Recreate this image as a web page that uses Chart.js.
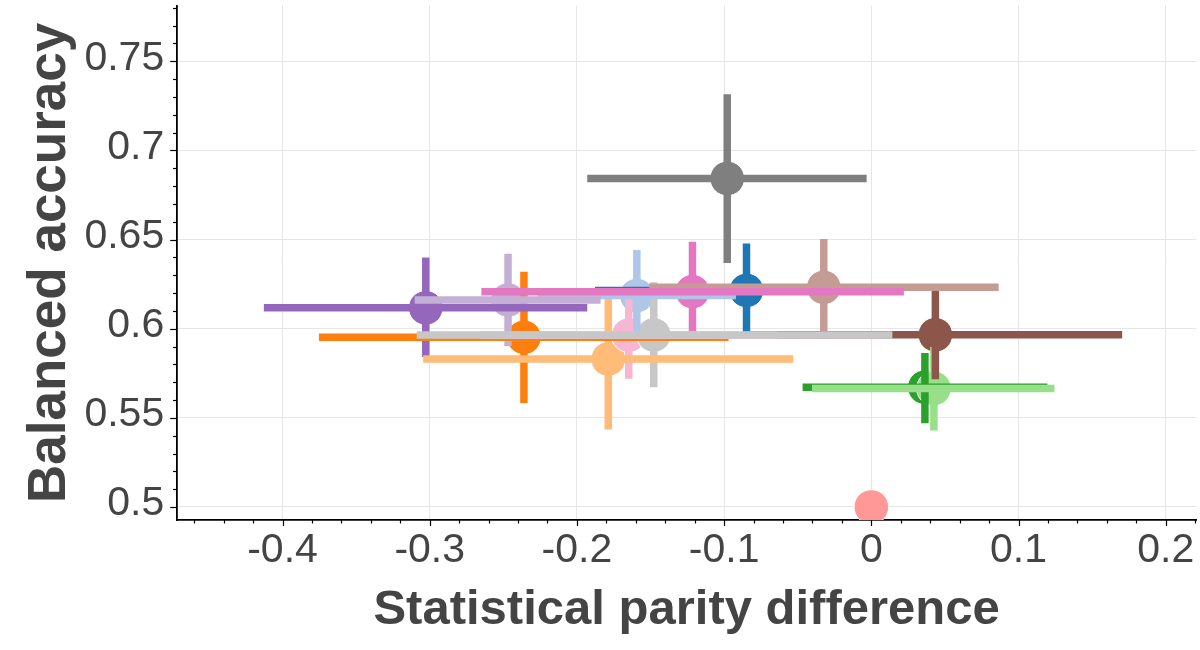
<!DOCTYPE html>
<html>
<head>
<meta charset="utf-8">
<script src="https://cdn.jsdelivr.net/npm/chart.js@4.4.1/dist/chart.umd.min.js"></script>
<style>
html, body { margin: 0; padding: 0; background: #fff; }
canvas { display: block; }
</style>
</head>
<body>
<canvas id="myChart" width="1200" height="650"></canvas>
<script>
// one entry per model, tab20 order
const seriesNames = ['blue', 'light blue', 'orange', 'light orange', 'green', 'light green', 'salmon',
  'purple', 'light purple', 'brown', 'light brown', 'pink', 'light pink', 'gray', 'light gray'];
const seriesColors = ['#1f77b4', '#aec7e8', '#ff7f0e', '#ffbb78', '#2ca02c', '#98df8a', '#ff9896',
  '#9467bd', '#c5b0d5', '#8c564b', '#c49c94', '#e377c2', '#f7b6d2', '#7f7f7f', '#c7c7c7'];

const parityDiff  = [-0.0848, -0.1593, -0.236, -0.1787, 0.0364, 0.0425, 0, -0.3027, -0.2468, 0.0435, -0.0323, -0.1215, -0.1648, -0.0979, -0.1478];
const balancedAcc = [0.6215, 0.6186, 0.5952, 0.583, 0.5672, 0.5665, 0.5, 0.6117, 0.6161, 0.5966, 0.6232, 0.6208, 0.5964, 0.6843, 0.5965];

const parityLow  = [-0.1878, -0.2265, -0.3753, -0.3045, -0.0467, -0.0403, null, -0.4127, -0.3102, -0.0834, -0.1509, -0.2649, -0.2655, -0.193, -0.3088];
const parityHigh = [0.019, -0.092, -0.097, -0.053, 0.1196, 0.1244, null, -0.193, -0.1839, 0.1704, 0.0865, 0.0221, -0.0637, -0.0032, 0.0143];
const accLow  = [0.5947, 0.5936, 0.5584, 0.5434, 0.547, 0.5429, null, 0.5841, 0.5903, 0.5717, 0.5962, 0.5935, 0.5719, 0.6369, 0.5671];
const accHigh = [0.6478, 0.6441, 0.632, 0.6225, 0.5864, 0.5897, null, 0.6399, 0.6421, 0.6212, 0.6503, 0.6488, 0.6221, 0.7315, 0.6261];

const xTickValues = [-0.4, -0.3, -0.2, -0.1, 0, 0.1, 0.2];
const xTickLabels = ['-0.4', '-0.3', '-0.2', '-0.1', '0', '0.1', '0.2'];
const yTickValues = [0.5, 0.55, 0.6, 0.65, 0.7, 0.75];
const yTickLabels = ['0.5', '0.55', '0.6', '0.65', '0.7', '0.75'];

const X_MIN = -0.4719, X_MAX = 0.2209, X_MINOR = 0.02;
const Y_MIN = 0.4927, Y_MAX = 0.7812, Y_MINOR = 0.01;

const TEXT = '#444';
const BAR_WIDTH = 7.5;

// major ticks get a label and a grid line, minor ones only a short mark
function buildTicks(min, max, step, majors, labels) {
  const out = [];
  for (let k = Math.ceil(min / step - 1e-9); k <= Math.floor(max / step + 1e-9); k++) {
    const v = Math.round(k * step * 1000) / 1000;
    const idx = majors.findIndex(m => Math.abs(m - v) < 1e-9);
    out.push({ value: v, isMajor: idx >= 0, text: idx >= 0 ? labels[idx] : '' });
  }
  return out;
}
const xTicks = buildTicks(X_MIN, X_MAX, X_MINOR, xTickValues, xTickLabels);
const yTicks = buildTicks(Y_MIN, Y_MAX, Y_MINOR, yTickValues, yTickLabels);

Chart.defaults.font.family = "'Liberation Sans', Arial, Helvetica, sans-serif";

const datasets = seriesNames.map((name, i) => ({
  label: name,
  data: [{ x: parityDiff[i], y: balancedAcc[i] }],
  backgroundColor: seriesColors[i],
  borderColor: '#fff',
  pointRadius: 17.3,
  pointBorderWidth: 1,
  clip: 0,
  order: seriesNames.length - i
}));

const errorBars = {
  id: 'errorBars',
  afterDatasetsDraw(chart) {
    const { ctx, chartArea, scales: { x, y } } = chart;
    ctx.save();
    ctx.beginPath();
    ctx.rect(chartArea.left, chartArea.top, chartArea.width, chartArea.height);
    ctx.clip();
    ctx.lineWidth = BAR_WIDTH;
    ctx.lineCap = 'butt';
    // all vertical bars first, the horizontal ones lie on top
    seriesNames.forEach((n, i) => {
      if (accLow[i] === null) return;
      const px = x.getPixelForValue(parityDiff[i]);
      ctx.strokeStyle = seriesColors[i];
      ctx.beginPath();
      ctx.moveTo(px, y.getPixelForValue(accLow[i]));
      ctx.lineTo(px, y.getPixelForValue(accHigh[i]));
      ctx.stroke();
    });
    seriesNames.forEach((n, i) => {
      if (parityLow[i] === null) return;
      const py = y.getPixelForValue(balancedAcc[i]);
      ctx.strokeStyle = seriesColors[i];
      ctx.beginPath();
      ctx.moveTo(x.getPixelForValue(parityLow[i]), py);
      ctx.lineTo(x.getPixelForValue(parityHigh[i]), py);
      ctx.stroke();
    });
    ctx.restore();
  }
};

const tickMarks = {
  id: 'tickMarks',
  afterDraw(chart) {
    const { ctx, chartArea, scales: { x, y } } = chart;
    ctx.save();
    ctx.strokeStyle = '#000';
    ctx.lineWidth = 1.2;
    x.ticks.forEach(t => {
      const px = Math.round(x.getPixelForValue(t.value)) + 0.5;
      ctx.beginPath();
      ctx.moveTo(px, chartArea.bottom);
      ctx.lineTo(px, chartArea.bottom + (t.isMajor ? 6 : 3.5));
      ctx.stroke();
    });
    y.ticks.forEach(t => {
      const py = Math.round(y.getPixelForValue(t.value)) + 0.5;
      ctx.beginPath();
      ctx.moveTo(chartArea.left, py);
      ctx.lineTo(chartArea.left - (t.isMajor ? 6.5 : 3.7), py);
      ctx.stroke();
    });
    ctx.restore();
  }
};

const gridColor = (c) => (c.tick && c.tick.isMajor ? '#e6e6e6' : 'rgba(0,0,0,0)');

const chart = new Chart(document.getElementById('myChart').getContext('2d'), {
  type: 'scatter',
  data: { datasets },
  plugins: [errorBars, tickMarks],
  options: {
    responsive: false,
    animation: false,
    events: [],
    layout: { autoPadding: false, padding: { top: 5.7, right: 3.5, left: 0, bottom: 0 } },
    plugins: { legend: { display: false }, tooltip: { enabled: false } },
    scales: {
      x: {
        type: 'linear',
        min: X_MIN,
        max: X_MAX,
        afterBuildTicks: (scale) => { scale.ticks = xTicks.map(t => ({ ...t })); },
        afterFit: (scale) => { scale.height = 130; scale.paddingLeft = 0; scale.paddingRight = 0; },
        grid: { color: gridColor, lineWidth: 1, drawTicks: false },
        border: { display: true, color: '#000', width: 1.8 },
        ticks: {
          autoSkip: false,
          maxRotation: 0,
          padding: 6.4,
          color: TEXT,
          font: { size: 41 },
          callback: (value, index, ticks) => ticks[index].text
        },
        title: {
          display: true,
          text: 'Statistical parity difference',
          color: TEXT,
          font: { size: 49, weight: 'bold' },
          padding: { top: 0, bottom: 10.6 }
        }
      },
      y: {
        type: 'linear',
        min: Y_MIN,
        max: Y_MAX,
        afterBuildTicks: (scale) => { scale.ticks = yTicks.map(t => ({ ...t })); },
        afterFit: (scale) => { scale.width = 176.7; scale.paddingTop = 0; scale.paddingBottom = 0; },
        grid: { color: gridColor, lineWidth: 1, drawTicks: false },
        border: { display: true, color: '#000', width: 1.8 },
        ticks: {
          autoSkip: false,
          padding: 12.5,
          labelOffset: -3,
          color: TEXT,
          font: { size: 41 },
          callback: (value, index, ticks) => ticks[index].text
        },
        title: {
          display: true,
          text: 'Balanced accuracy',
          color: TEXT,
          font: { size: 53, weight: 'bold' },
          padding: { top: 18.3, bottom: 0 }
        }
      }
    }
  }
});
</script>
</body>
</html>
